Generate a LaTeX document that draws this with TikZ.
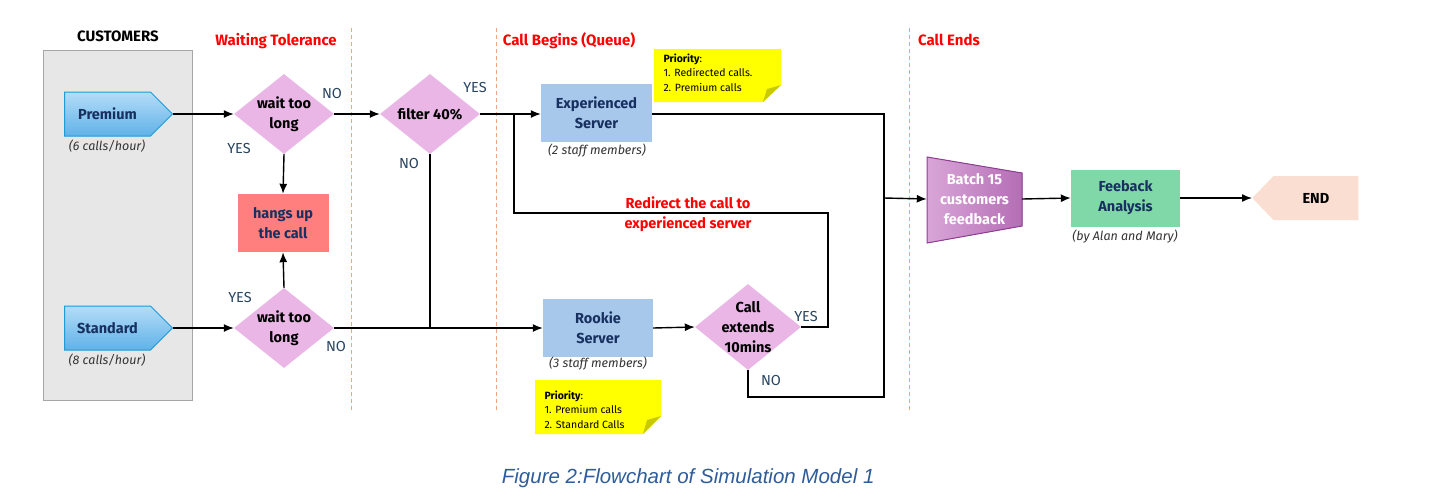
\documentclass[tikz,border=0pt]{standalone}
\usepackage{fontspec}
\setmainfont{Fira Sans}
\newfontfamily\captionfont{Liberation Sans}
\usetikzlibrary{arrows.meta, shapes.geometric, shapes.symbols, calc}

\definecolor{custfill}{HTML}{E7E7E7}
\definecolor{custdraw}{HTML}{A6A6A6}
\definecolor{premtop}{HTML}{B5DCF8}
\definecolor{prembot}{HTML}{5FB2E8}
\definecolor{premdraw}{HTML}{1F9BD7}
\definecolor{decfill}{HTML}{E9B6E6}
\definecolor{hangfill}{HTML}{FF7F7F}
\definecolor{serverfill}{HTML}{A7C8EB}
\definecolor{feedfill}{HTML}{80D8A8}
\definecolor{notefill}{HTML}{FFFF00}
\definecolor{notefold}{HTML}{C9C900}
\definecolor{endfill}{HTML}{F9DED1}
\definecolor{batchleft}{HTML}{D9A6D8}
\definecolor{batchright}{HTML}{B46EB5}
\definecolor{batchdraw}{HTML}{8F3D93}
\definecolor{phaseorange}{HTML}{F2A57C}
\definecolor{titlered}{HTML}{FF0000}
\definecolor{navytext}{HTML}{17305F}
\definecolor{slate}{HTML}{2A4560}
\definecolor{subgray}{HTML}{333333}
\definecolor{captionblue}{HTML}{2F5C9A}

\begin{document}
\begin{tikzpicture}[x=1pt, y=-1pt,
    flow/.style={-{Latex[length=10pt,width=8pt]}, line width=1.4pt},
    line/.style={line width=1.4pt},
    phase/.style={draw=phaseorange, line width=0.9pt, dash pattern=on 4pt off 3pt},
    boxtext/.style={font=\bfseries\fontsize{14.5}{20}\selectfont, text=navytext, align=center},
    title/.style={font=\bfseries\fontsize{15}{17}\selectfont},
    phasetitle/.style={title, text=titlered},
    answer/.style={font=\fontsize{14.5}{16}\selectfont, text=slate},
    sub/.style={font=\itshape\fontsize{12.5}{15}\selectfont, text=subgray},
    notetext/.style={font=\fontsize{10.5}{14.5}\selectfont, align=left, anchor=north west},
    arrival/.style={signal, signal to=east, signal pointer angle=90, minimum width=108,
        minimum height=44, inner sep=0pt, top color=premtop, bottom color=prembot,
        draw=premdraw, line width=1pt, boxtext},
    decision/.style={diamond, fill=decfill, minimum width=100, minimum height=80, inner sep=0pt},
    server/.style={rectangle, fill=serverfill, minimum width=111, minimum height=58, boxtext},
]
    \useasboundingbox (0,0) rectangle (1438,501);
    \fill[white] (0,0) rectangle (1438,501);

    % Phase separators and titles
    \draw[phase] (351,28) -- (351,412);
    \draw[phase] (496,28) -- (496,412);
    \draw[phase] (909,28) -- (909,412);
    \node[title] (custtitle) at (118,36) {CUSTOMERS};
    \node[phasetitle] (waittitle) at (276,41) {Waiting Tolerance};
    \node[phasetitle] (begintitle) at (569,41) {Call Begins (Queue)};
    \node[phasetitle] (endtitle) at (949,40) {Call Ends};

    % Customers
    \node[rectangle, fill=custfill, draw=custdraw, line width=1pt,
          minimum width=149, minimum height=350] (cust) at (117.5,225) {};
    \node[arrival, anchor=west] (premium) at (64,114) {Premium};
    \node[sub] (premrate) at (107,146) {(6 calls/hour)};
    \node[arrival, anchor=west] (standard) at (64,328) {Standard};
    \node[sub] (stdrate) at (107,360) {(8 calls/hour)};

    % Waiting tolerance
    \node[decision] (wait1) at (284,114) {};
    \node[boxtext, text=black] (wait1txt) at (wait1) {wait too\\long};
    \node[decision] (wait2) at (284,328) {};
    \node[boxtext, text=black] (wait2txt) at (wait2) {wait too\\long};
    \node[rectangle, fill=hangfill, minimum width=91, minimum height=58, boxtext] (hang) at (283,223) {hangs up\\the call};
    \node[decision] (filter) at (430,114) {};
    \node[boxtext, text=black] (filtertxt) at (filter) {filter 40\%};

    % Servers
    \node[server] (exp) at (596.5,113) {Experienced\\Server};
    \node[sub] (expstaff) at (597,151) {(2 staff members)};
    \node[server, minimum width=110] (rookie) at (598,328) {Rookie\\Server};
    \node[sub] (rookiestaff) at (598,364) {(3 staff members)};
    \node[decision, minimum width=106, minimum height=86] (call) at (748,327) {};
    \node[boxtext, text=black] (calltxt) at (call) {Call\\extends\\10mins};

    % Priority notes
    \fill[notefill] (654,49) -- (781,49) -- (781,85) -- (763,102) -- (654,102) -- cycle;
    \fill[notefold] (781,85) -- (763,102) -- (767,89) -- cycle;
    \node[notetext] (note1) at (660,50) {\textbf{Priority}:\\1. Redirected calls.\\2. Premium calls};
    \fill[notefill] (535,380) -- (661,380) -- (661,416) -- (643,434) -- (535,434) -- cycle;
    \fill[notefold] (661,416) -- (643,434) -- (647,420) -- cycle;
    \node[notetext] (note2) at (541,387) {\textbf{Priority}:\\1. Premium calls\\2. Standard Calls};

    % Feedback
    \filldraw[left color=batchleft, right color=batchright, draw=batchdraw, line width=1pt]
        (927,157) -- (1022,173) -- (1022,226) -- (927,243) -- cycle;
    \node[boxtext, text=white, minimum width=95, minimum height=86] (batch) at (974.5,199) {Batch 15\\customers\\feedback};
    \node[rectangle, fill=feedfill, minimum width=109, minimum height=57, boxtext] (feed) at (1125.5,198) {Feeback\\Analysis};
    \node[sub] (feedby) at (1125,237) {(by Alan and Mary)};
    \node[signal, signal to=west, signal pointer angle=92, fill=endfill, minimum width=106,
          minimum height=44, inner sep=0pt, boxtext, text=black, anchor=west] (endn) at (1252,198) {END};

    % Connectors
    \draw[flow] (premium.east) -- (wait1.west);
    \draw[flow] (wait1.east) -- (filter.west);
    \draw[flow] (wait1.south) -- (hang.north);
    \draw[flow] (filter.east) -- (exp.west |- filter.east);
    \draw[flow] (standard.east) -- (wait2.west);
    \draw[flow] (wait2.north) -- (hang.south);
    \draw[flow] (wait2.east) -- (rookie.west);
    \draw[line] (filter.south) -- (filter.south |- rookie.west);
    \draw[flow] (rookie.east) -- (call.west);
    \coordinate (redirR) at (828,213);
    \coordinate (redirL) at (514,213);
    \draw[line] (call.east) -| (redirR) -- (redirL) -- (redirL |- filter.east);
    \coordinate (joinR) at (884,198);
    \coordinate (noturn) at (748,397);
    \draw[line] (exp.east |- filter.east) -| (joinR);
    \draw[line] (call.south) -- (noturn) -| (joinR);
    \draw[flow] (joinR) -- (batch.west);
    \draw[flow] (batch.east) -- (feed.west);
    \draw[flow] (feed.east) -- (endn.west);

    % Answers
    \node[answer] (no1) at (332,94) {NO};
    \node[answer] (yes1) at (239,149) {YES};
    \node[answer] (yes2) at (240,297) {YES};
    \node[answer] (no2) at (336,346) {NO};
    \node[answer] (yes3) at (475,88) {YES};
    \node[answer] (no3) at (409,164) {NO};
    \node[answer] (yes4) at (806,316) {YES};
    \node[answer] (no4) at (771,380) {NO};
    \node[boxtext, text=titlered] (redirtxt) at (688,214) {Redirect the call to\\experienced server};

    % Caption
    \node[font=\captionfont\itshape\fontsize{20.5}{24}\selectfont, text=captionblue, anchor=east] (caption) at (878,478) {Figure 2:Flowchart of Simulation Model 1};
\end{tikzpicture}
\end{document}
